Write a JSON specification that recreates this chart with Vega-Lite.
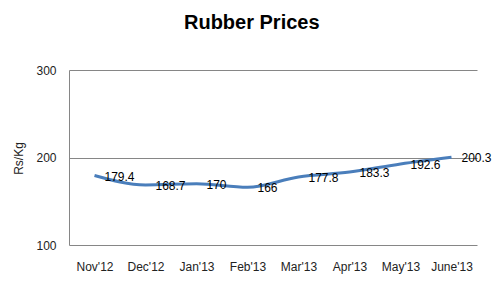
{
  "$schema": "https://vega.github.io/schema/vega-lite/v6.json",
  "width": 408,
  "height": 175,
  "autosize": {"type": "none"},
  "padding": {"left": 69, "top": 70, "right": 16, "bottom": 46},
  "background": "white",
  "title": {
    "text": "Rubber Prices",
    "font": "Liberation Sans",
    "fontSize": 20,
    "fontWeight": "bold",
    "color": "#000000",
    "anchor": "middle",
    "frame": "bounds",
    "offset": 31
  },
  "data": {
    "values": [
      {"month": "Nov'12", "price": 179.4},
      {"month": "Dec'12", "price": 168.7},
      {"month": "Jan'13", "price": 170},
      {"month": "Feb'13", "price": 166},
      {"month": "Mar'13", "price": 177.8},
      {"month": "Apr'13", "price": 183.3},
      {"month": "May'13", "price": 192.6},
      {"month": "June'13", "price": 200.3}
    ]
  },
  "encoding": {
    "x": {
      "field": "month",
      "type": "ordinal",
      "sort": null,
      "scale": {"type": "point", "padding": 0.5},
      "axis": {
        "title": null,
        "labelAngle": 0,
        "domain": false,
        "ticks": false,
        "labelPadding": 16,
        "labelFont": "Liberation Sans",
        "labelFontSize": 12,
        "labelColor": "#222222"
      }
    },
    "y": {
      "field": "price",
      "type": "quantitative",
      "scale": {"domain": [100, 300], "nice": false, "zero": false},
      "axis": {
        "values": [100, 200, 300],
        "title": "Rs/Kg",
        "titleFont": "Liberation Sans",
        "titleFontSize": 12,
        "titleFontWeight": "normal",
        "titleColor": "#222222",
        "titleX": -51,
        "titleY": 88,
        "titleAlign": "center",
        "titleBaseline": "middle",
        "domain": true,
        "domainColor": "#868686",
        "ticks": false,
        "grid": true,
        "gridColor": "#868686",
        "gridOpacity": 1,
        "labelPadding": 13,
        "labelFont": "Liberation Sans",
        "labelFontSize": 12,
        "labelColor": "#222222"
      }
    }
  },
  "layer": [
    {
      "mark": {"type": "line", "color": "#4a7ebb", "strokeWidth": 3, "interpolate": "monotone"}
    },
    {
      "mark": {"type": "text", "align": "left", "baseline": "middle", "dx": 10, "dy": 1, "font": "Liberation Sans", "fontSize": 12, "color": "#000000"},
      "encoding": {"text": {"field": "price", "type": "quantitative"}}
    }
  ],
  "config": {"view": {"stroke": null}}
}
